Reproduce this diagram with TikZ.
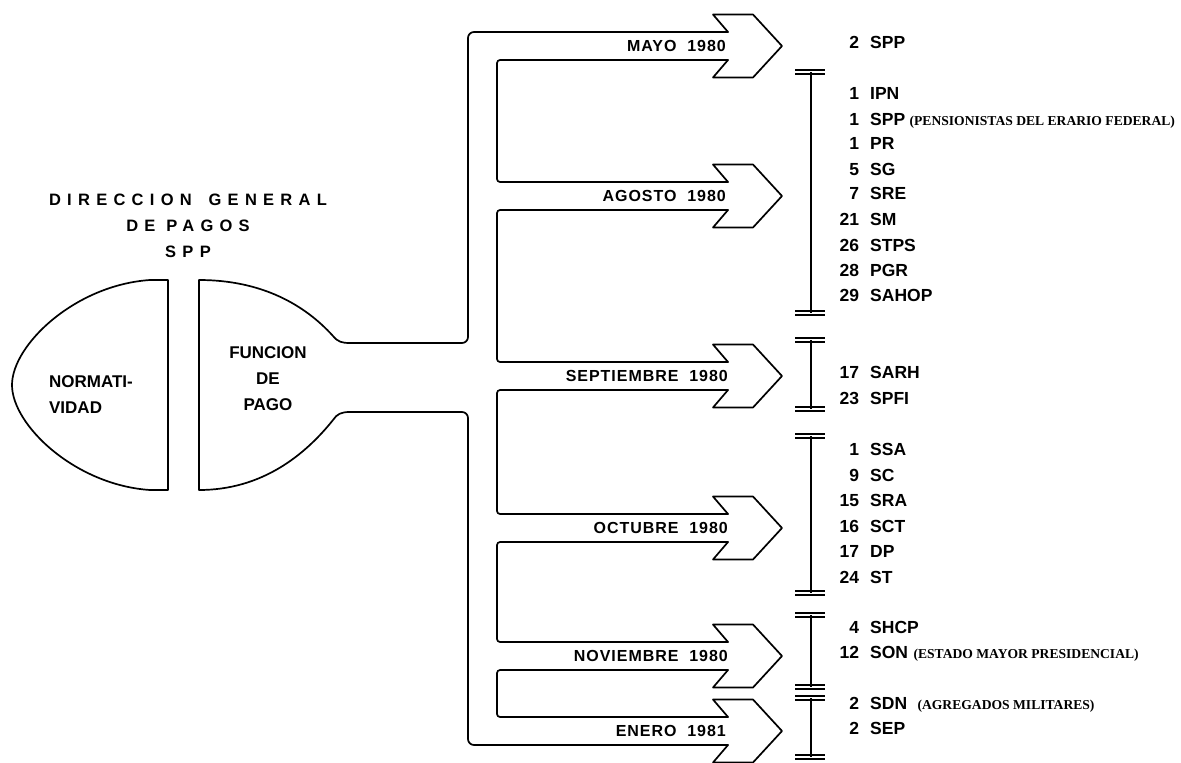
\documentclass[tikz,border=0pt]{standalone}
\usepackage{fontspec}
\setmainfont{Liberation Sans}
\newfontfamily\titlefont[LetterSpace=38]{Liberation Sans}
\newfontfamily\labelfont[LetterSpace=6]{Liberation Sans}
\newfontfamily\notefont{Liberation Serif}
\usetikzlibrary{positioning}
\newcommand{\nr}[1]{\makebox[21pt][r]{#1}\hspace{11pt}}

\begin{document}
\begin{tikzpicture}[x=1pt,y=-1pt]
	\tikzset{
		outline/.style={line width=1.7pt, line join=round, line cap=round},
		bar/.style={line width=1.8pt},
		heading/.style={font=\titlefont\bfseries\fontsize{16.5}{26}\selectfont, align=center, inner sep=0},
		blob/.style={font=\bfseries\fontsize{17}{26}\selectfont, inner sep=0},
		month/.style={font=\labelfont\bfseries\fontsize{16}{18}\selectfont, anchor=east, inner sep=0},
		item/.style={font=\bfseries\fontsize{17.5}{20}\selectfont, anchor=west, inner sep=0},
		note/.style={font=\notefont\bfseries\fontsize{13.6}{16}\selectfont, inner sep=0}
	}
	\useasboundingbox (0,0) rectangle (1181,763);

	% Title and the two halves
	\node[heading] (title) at (188,226) {DIRECCION\hspace{6pt} GENERAL\\DE PAGOS\\SPP};
	\draw[outline] (168,280) -- (150,280) .. controls (75,285) and (12,345) .. (12,385)
		.. controls (12,425) and (75,485) .. (150,490) -- (168,490) -- cycle;
	\draw[outline] (350,343) .. controls (342,343) and (338,342) .. (333,336)
		.. controls (305,305) and (262,280) .. (199,280) -- (199,490)
		.. controls (262,490) and (305,455) .. (333,420)
		.. controls (337,414) and (341,412) .. (350,412);
	\node[blob, align=left] (norma) at (91,394.5) {NORMATI-\\VIDAD};
	\node[blob, align=center] (pago) at (268,379) {FUNCION\\DE\\PAGO};

	% Channel
	\draw[outline, rounded corners=6] (728,32) -- (468,32) -- (468,343) -- (350,343);
	\draw[outline, rounded corners=6] (350,412) -- (468,412) -- (468,745) -- (728,745);
	\foreach \c/\n in {46/182,196/362,376/514,528/642,656/717}
		\draw[outline, rounded corners=3] (728,\c+14) -- (497,\c+14) -- (497,\n) -- (728,\n);

	% Arrow heads
	\foreach \c in {46,196,376,528,656,731}
		\draw[outline] (728,\c-14) -- (713,\c-31.5) -- (753,\c-31.5) -- (782,\c)
			-- (753,\c+31.5) -- (713,\c+31.5) -- (728,\c+14);

	\node[month] (mayo) at (726,46) {MAYO\ \ 1980};
	\node[month] (agosto) at (726,196) {AGOSTO\ \ 1980};
	\node[month] (sept) at (728,376) {SEPTIEMBRE\ \ 1980};
	\node[month] (oct) at (728,528) {OCTUBRE\ \ 1980};
	\node[month] (nov) at (728,656) {NOVIEMBRE\ \ 1980};
	\node[month] (enero) at (726,731) {ENERO\ \ 1981};

	% Bars
	\foreach \t/\b in {72/313,340/409,436/593,615/687,698/757} {
		\draw[bar] (811,\t) -- (811,\b);
		\draw[line width=1.5pt] (795,\t-2) -- (825,\t-2) (795,\t+2) -- (825,\t+2)
			(795,\b-2) -- (825,\b-2) (795,\b+2) -- (825,\b+2);
	}

	% Lists
	\node[item] (spp2) at (838,42) {\nr{2}SPP};

	\node[item] (ipn) at (838,93) {\nr{1}IPN};
	\node[item] (spp1) at (838,119) {\nr{1}SPP};
	\node[item] (pr) at (838,143) {\nr{1}PR};
	\node[item] (sg) at (838,169) {\nr{5}SG};
	\node[item] (sre) at (838,193) {\nr{7}SRE};
	\node[item] (sm) at (838,219) {\nr{21}SM};
	\node[item] (stps) at (838,245) {\nr{26}STPS};
	\node[item] (pgr) at (838,270) {\nr{28}PGR};
	\node[item] (sahop) at (838,295) {\nr{29}SAHOP};

	\node[item] (sarh) at (838,372) {\nr{17}SARH};
	\node[item] (spfi) at (838,398) {\nr{23}SPFI};

	\node[item] (ssa) at (838,449) {\nr{1}SSA};
	\node[item] (sc) at (838,475) {\nr{9}SC};
	\node[item] (sra) at (838,500) {\nr{15}SRA};
	\node[item] (sct) at (838,526) {\nr{16}SCT};
	\node[item] (dp) at (838,551) {\nr{17}DP};
	\node[item] (st) at (838,577) {\nr{24}ST};

	\node[item] (shcp) at (838,627) {\nr{4}SHCP};
	\node[item] (son) at (838,652) {\nr{12}SON};

	\node[item] (sdn) at (838,703) {\nr{2}SDN};
	\node[item] (sep) at (838,728) {\nr{2}SEP};

	\node[note, right=4pt of spp1.base east, anchor=base west] (pens) {(PENSIONISTAS DEL ERARIO FEDERAL)};
	\node[note, right=5pt of son.base east, anchor=base west] (estado) {(ESTADO MAYOR PRESIDENCIAL)};
	\node[note, right=10pt of sdn.base east, anchor=base west] (agreg) {(AGREGADOS MILITARES)};
\end{tikzpicture}
\end{document}
